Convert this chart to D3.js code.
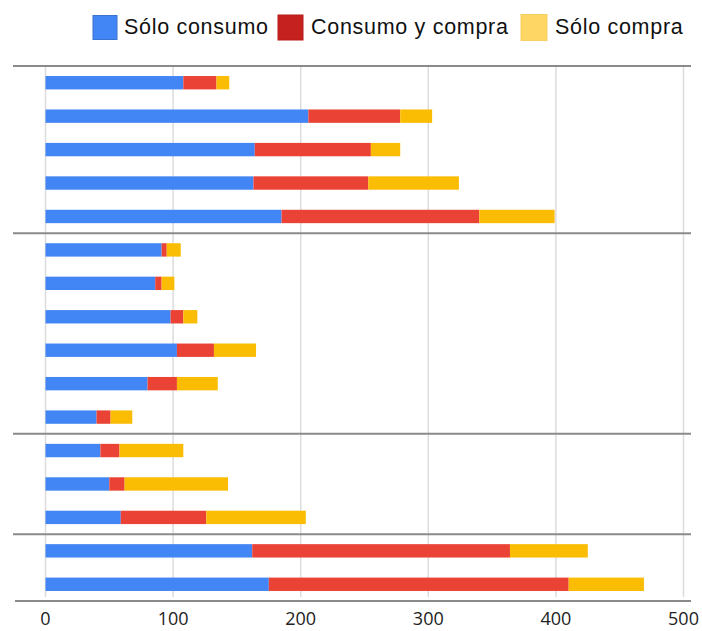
<!DOCTYPE html>
<html>
<head>
<meta charset="utf-8">
<script src="https://cdn.jsdelivr.net/npm/d3@7"></script>
<style>
  html, body { margin: 0; padding: 0; background: #fff; }
  svg { display: block; }
</style>
</head>
<body>
<svg id="chart" width="702" height="631"></svg>
<script>
// ---- data ----
const categories = ["1","2","3","4","5","6","7","8","9","10","11","12","13","14","15","16"];
const groupSizes = [5, 6, 3, 2];
const seriesNames = ["Sólo consumo", "Consumo y compra", "Sólo compra"];
const soloConsumo   = [108, 206, 164, 163, 185, 91, 86, 98, 103, 80, 40, 43, 50, 59, 162, 175];
const consumoCompra = [ 26,  72,  91,  90, 155,  4,  5, 10,  29, 23, 11, 15, 12, 67, 202, 235];
const soloCompra    = [ 10,  25,  23,  71,  59, 11, 10, 11,  33, 32, 17, 50, 81, 78,  61,  59];
const xTicks = [0, 100, 200, 300, 400, 500];
const barColors = ["#4285F4", "#EA4335", "#FBBC04"];
const legendColors = ["#4285F4", "#C5221F", "#FDD663"];
const legendBorders = ["#3B73CF", "#B71C1C", "#F8D060"];

const rows = categories.map((c, i) => ({
  cat: c,
  [seriesNames[0]]: soloConsumo[i],
  [seriesNames[1]]: consumoCompra[i],
  [seriesNames[2]]: soloCompra[i]
}));

const svg = d3.select("#chart");
const plotTop = 66, plotBottom = 601;
const x = d3.scaleLinear().domain([0, 500]).range([45.5, 683.5]);
const y = d3.scaleBand().domain(categories).range([plotTop, plotBottom])
  .paddingInner(0.6).paddingOuter(0.3);

// gridlines
svg.append("g").selectAll("line").data(xTicks).join("line")
  .attr("x1", d => x(d)).attr("x2", d => x(d))
  .attr("y1", plotTop).attr("y2", 597)
  .attr("stroke", "#dcdcdc").attr("stroke-width", 1.5);

// stacked bars
const stack = d3.stack().keys(seriesNames);
const layers = stack(rows);
svg.append("g").selectAll("g").data(layers).join("g")
  .attr("fill", (d, i) => barColors[i])
  .selectAll("rect").data(d => d).join("rect")
  .attr("x", d => x(d[0]))
  .attr("width", d => x(d[1]) - x(d[0]))
  .attr("y", d => y(d.data.cat))
  .attr("height", y.bandwidth());

// group separators
const step = y.step();
let acc = 0;
const seps = [0];
groupSizes.forEach(s => { acc += s; seps.push(acc); });
svg.append("g").selectAll("line").data(seps).join("line")
  .attr("x1", (d, i) => i === seps.length - 1 ? 15 : 13)
  .attr("x2", 691)
  .attr("y1", d => plotTop + d * step).attr("y2", d => plotTop + d * step)
  .attr("stroke", "#8a8a8a").attr("stroke-width", 2);

// x axis labels
svg.append("g").selectAll("text").data(xTicks).join("text")
  .attr("x", d => x(d)).attr("y", 625)
  .attr("text-anchor", "middle")
  .attr("font-family", "'Open Sans', sans-serif")
  .attr("font-size", 18)
  .attr("fill", "#222")
  .text(d => d);

// legend
const legendPos = [
  { sx: 93, tx: 124, size: 24 },
  { sx: 278, tx: 311, size: 25 },
  { sx: 521, tx: 555, size: 26 }
];
const lg = svg.append("g");
seriesNames.forEach((name, i) => {
  const p = legendPos[i];
  lg.append("rect")
    .attr("x", p.sx).attr("y", 27.5 - p.size / 2)
    .attr("width", p.size).attr("height", p.size)
    .attr("fill", legendColors[i])
    .attr("stroke", legendBorders[i]).attr("stroke-width", 1);
  lg.append("text")
    .attr("x", p.tx).attr("y", 33.5)
    .attr("font-family", "'Liberation Sans', Arial, sans-serif")
    .attr("font-size", 21.5)
    .attr("letter-spacing", "0.7px")
    .attr("fill", "#111")
    .text(name);
});
</script>
</body>
</html>
